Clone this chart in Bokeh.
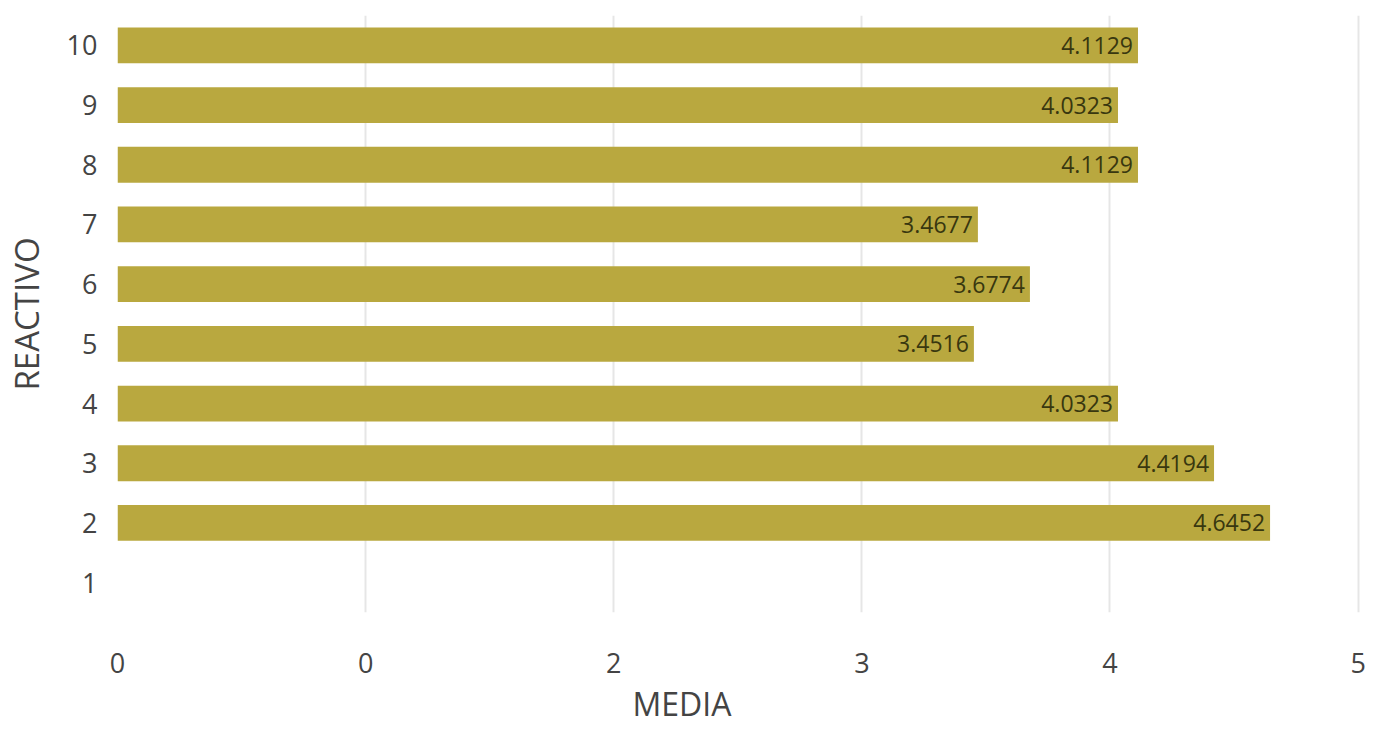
from bokeh.plotting import figure
from bokeh.models import ColumnDataSource, FixedTicker, LabelSet, FactorRange, Range1d, Title
from bokeh.core.properties import value
from bokeh.embed import file_html
from bokeh.resources import INLINE

categories = ["1", "2", "3", "4", "5", "6", "7", "8", "9", "10"]
bar_categories = ["2", "3", "4", "5", "6", "7", "8", "9", "10"]
values = [4.6452, 4.4194, 4.0323, 3.4516, 3.6774, 3.4677, 4.1129, 4.0323, 4.1129]
labels = ["4.6452", "4.4194", "4.0323", "3.4516", "3.6774", "3.4677", "4.1129", "4.0323", "4.1129"]
x_ticks = [0, 1, 2, 3, 4, 5]
x_tick_labels = {0: "0", 1: "0", 2: "2", 3: "3", 4: "4", 5: "5"}
x_title = "MEDIA"
y_title = "REACTIVO"

src = ColumnDataSource(dict(cat=bar_categories, val=values, lab=labels))

p = figure(width=1387, height=731, output_backend="svg", toolbar_location=None,
           y_range=FactorRange(factors=categories, range_padding=0),
           x_range=Range1d(0, 5.05),
           min_border_left=117, min_border_right=17, min_border_top=15, min_border_bottom=119)
p.outline_line_color = None
p.background_fill_color = "white"

p.hbar(y="cat", right="val", left=0, height=0.6, source=src,
       fill_color="#B9A83F", line_color=None)

lbl = LabelSet(x="val", y="cat", text="lab", source=src, x_offset=-5,
               text_align="right", text_baseline="middle",
               text_font=value("Open Sans"), text_font_size="23px", text_color="#38370f")
p.add_layout(lbl)

p.xaxis.ticker = FixedTicker(ticks=x_ticks)
p.xaxis.major_label_overrides = x_tick_labels
for ax in (p.xaxis, p.yaxis):
    ax.axis_line_color = None
    ax.major_tick_line_color = None
    ax.minor_tick_line_color = None
    ax.major_label_text_font = "Open Sans"
    ax.major_label_text_font_size = "27px"
    ax.major_label_text_color = "#444444"
p.xaxis.major_label_standoff = 34
p.yaxis.major_label_standoff = 14

p.yaxis.axis_label = y_title
p.yaxis.axis_label_text_font = "Open Sans"
p.yaxis.axis_label_text_font_size = "33px"
p.yaxis.axis_label_text_font_style = "normal"
p.yaxis.axis_label_text_color = "#444444"
p.yaxis.axis_label_standoff = 15

xt = Title(text=x_title, align="left", offset=515, standoff=8,
           text_font="Open Sans", text_font_size="32px", text_font_style="normal",
           text_color="#444444")
p.add_layout(xt, "below")

p.ygrid.grid_line_color = None
p.xgrid.grid_line_color = "#e6e6e6"
p.xgrid.grid_line_width = 2

open("out.html", "w").write(file_html(p, INLINE))
